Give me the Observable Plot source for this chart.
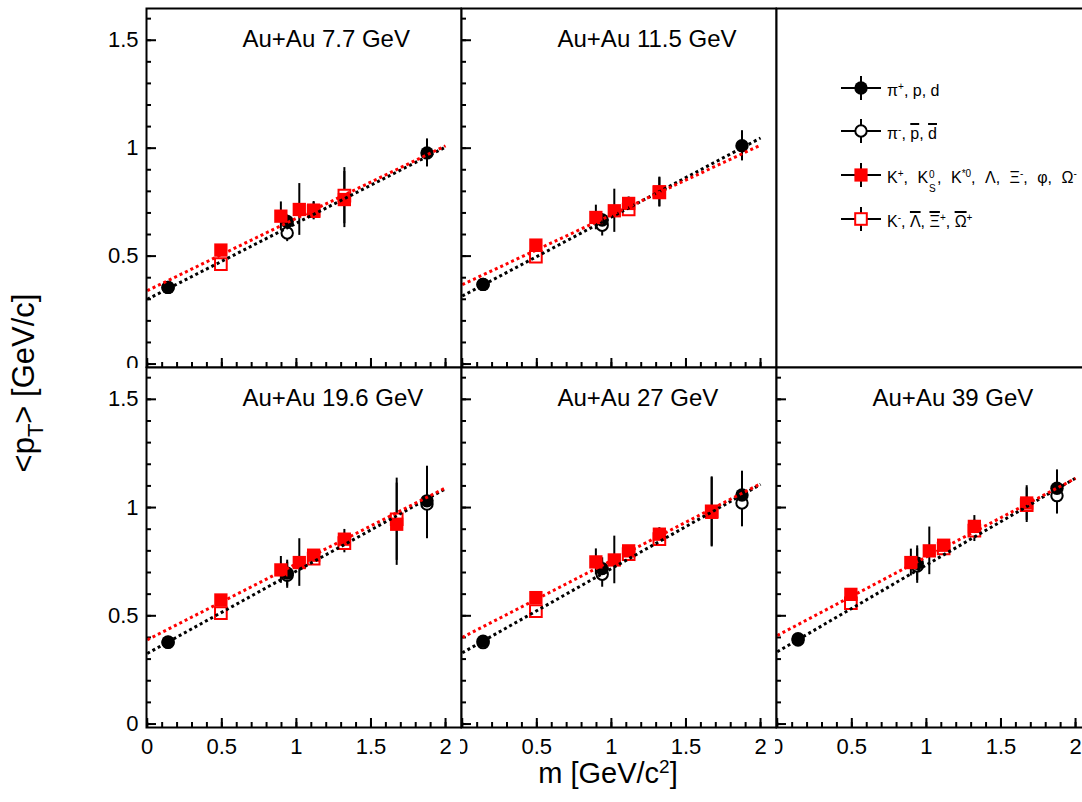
<!DOCTYPE html>
<html>
<head>
<meta charset="utf-8">
<script src="https://cdn.jsdelivr.net/npm/d3@7"></script>
<script src="https://cdn.jsdelivr.net/npm/@observablehq/plot@0.6"></script>
<style>
html, body { margin: 0; padding: 0; background: #fff; }
#root { position: relative; width: 1082px; height: 802px; overflow: hidden;
  font-family: "Liberation Sans", Arial, Helvetica, sans-serif; color: #000; }
#root svg.panel { position: absolute; overflow: hidden; }
.leg-text { position: absolute; left: 887px; font-size: 16px; line-height: 20px; height: 20px; white-space: nowrap; }
.leg-text sup, .leg-text sub { font-size: 10px; }
.leg-wide { word-spacing: 5px; }
.ov { text-decoration: overline; text-decoration-thickness: 2px; }
#ytitle { position: absolute; left: 30px; top: 383px; font-size: 31px; line-height: 34px; white-space: nowrap;
  transform: translate(-50%, -50%) rotate(-90deg); }
#ytitle sub { font-size: 22px; vertical-align: -0.4em; }
#xtitle { position: absolute; left: 608px; top: 757px; font-size: 29px; line-height: 1; white-space: nowrap;
  transform: translateX(-50%); }
#xtitle sup { font-size: 19px; vertical-align: 0.55em; }
</style>
</head>
<body>
<div id="root"></div>
<script>
// ---------------- data ----------------
const energies = ["7.7", "11.5", "19.6", "27", "39"];
const particles = ["π+", "π-", "K+", "K-", "K*0", "p", "p̄", "φ", "Λ", "Λ̄", "Ξ-", "Ξ̄+", "Ω-", "Ω̄+", "d", "d̄"];
const masses = [0.1396, 0.1396, 0.4937, 0.4937, 0.8959, 0.9383, 0.9383, 1.0195, 1.1157, 1.1157, 1.3217, 1.3217, 1.6725, 1.6725, 1.8756, 1.8756];
const markerKinds = ["filledCircle", "openCircle", "filledSquare", "openSquare", "filledSquare", "filledCircle", "openCircle",
  "filledSquare", "filledSquare", "openSquare", "filledSquare", "openSquare", "filledSquare", "openSquare", "filledCircle", "openCircle"];

// <pT> values (GeV/c), same order as particles; null = not measured
const meanPt77  = [0.355, 0.355, 0.528, 0.463, 0.685, 0.660, 0.607, 0.716, 0.713, 0.708, 0.762, 0.780, null, null, 0.978, null];
const meanPt115 = [0.369, 0.369, 0.551, 0.497, 0.679, 0.667, 0.643, 0.710, 0.744, 0.716, 0.798, 0.795, null, null, 1.011, null];
const meanPt196 = [0.379, 0.377, 0.573, 0.512, 0.712, 0.697, 0.687, 0.746, 0.780, 0.764, 0.854, 0.836, 0.923, 0.946, 1.031, 1.016];
const meanPt27  = [0.383, 0.376, 0.584, 0.522, 0.749, 0.718, 0.692, 0.758, 0.800, 0.785, 0.877, 0.854, 0.978, 0.982, 1.058, 1.021];
const meanPt39  = [0.394, 0.388, 0.599, 0.558, 0.746, 0.743, 0.730, 0.800, 0.826, 0.811, 0.913, 0.893, 1.021, 1.011, 1.089, 1.055];

// uncertainties
const err77  = [0.01, 0.01, 0.01, 0.01, 0.066, 0.03, 0.04, 0.12, 0.04, 0.04, 0.13, 0.13, null, null, 0.065, null];
const err115 = [0.01, 0.01, 0.01, 0.01, 0.057, 0.03, 0.05, 0.10, 0.03, 0.03, 0.068, 0.068, null, null, 0.07, null];
const err196 = [0.01, 0.01, 0.01, 0.01, 0.062, 0.06, 0.06, 0.11, 0.02, 0.02, 0.045, 0.045, 0.19, 0.19, 0.16, 0.16];
const err27  = [0.01, 0.01, 0.01, 0.01, 0.06, 0.05, 0.06, 0.11, 0.02, 0.02, 0.03, 0.03, 0.16, 0.16, 0.11, 0.11];
const err39  = [0.01, 0.01, 0.01, 0.01, 0.062, 0.08, 0.08, 0.11, 0.02, 0.02, 0.05, 0.05, 0.08, 0.08, 0.085, 0.085];

// linear fits: value at m = fitX[0] and m = fitX[1]
const fitX = [0, 2];
const fitBlackStart = [0.300, 0.315, 0.326, 0.329, 0.334];
const fitBlackEnd   = [1.005, 1.047, 1.087, 1.107, 1.136];
const fitRedStart   = [0.340, 0.368, 0.389, 0.400, 0.409];
const fitRedEnd     = [1.011, 1.014, 1.091, 1.110, 1.135];

// axes
const xMajorTicks = [0, 0.5, 1, 1.5, 2];
const yMajorTicks = [0, 0.5, 1, 1.5];
const xMinorTicks = d3.range(0, 2.05, 0.1);
const yMinorTicks = d3.range(0, 1.65, 0.1);

const meanPt = [meanPt77, meanPt115, meanPt196, meanPt27, meanPt39];
const errors = [err77, err115, err196, err27, err39];

// ---------------- layout ----------------
const xDomain = [-0.005, 2.107];
const yDomain = [-0.016, 1.647];
const colLeft = [146, 461, 776];
const rowTop = [8, 367];
const panelW = 315;
const panelH = [359, 360];
const font = '"Liberation Sans", Arial, Helvetica, sans-serif';
const root = document.getElementById("root");

function place(svg, left, top) {
  svg.classList.add("panel");
  svg.style.left = left + "px";
  svg.style.top = top + "px";
  root.appendChild(svg);
}

function dataPanel(k, row, col) {
  const mL = col === 0 ? 146 : 1, mR = 1, mT = 1, mB = row === 1 ? 50 : 1;
  const pts = particles.map((name, j) => ({name, m: masses[j], v: meanPt[k][j], e: errors[k][j], kind: markerKinds[j]}))
    .filter(d => d.v != null);
  const black = fitX.map((x, i) => ({x, y: i === 0 ? fitBlackStart[k] : fitBlackEnd[k]}));
  const red = fitX.map((x, i) => ({x, y: i === 0 ? fitRedStart[k] : fitRedEnd[k]}));
  const of = kind => pts.filter(d => d.kind === kind);
  const dotted = {strokeWidth: 3, strokeDasharray: "3,3", strokeLinecap: "butt", strokeLinejoin: "miter"};
  const marks = [
    Plot.axisY(yMinorTicks, {tickSize: -5, fill: "none", strokeWidth: 2, label: null}),
    Plot.axisY(yMajorTicks, {tickSize: -10, fill: "none", strokeWidth: 2, label: null}),
    Plot.axisX(xMinorTicks, {tickSize: -5, fill: "none", strokeWidth: 2, label: null}),
    Plot.axisX(xMajorTicks, {tickSize: -9, fill: "none", strokeWidth: 2, label: null}),
    Plot.ruleX(pts, {x: "m", y1: d => d.v - d.e, y2: d => d.v + d.e, stroke: "black", strokeWidth: 2}),
    Plot.dot(of("openCircle"), {x: "m", y: "v", r: 5.7, symbol: "circle", fill: "white", stroke: "black", strokeWidth: 2}),
    Plot.dot(of("openSquare"), {x: "m", y: "v", r: 6.6, symbol: "square", fill: "white", stroke: "red", strokeWidth: 2}),
    Plot.dot(of("filledCircle"), {x: "m", y: "v", r: 6.7, symbol: "circle", fill: "black", stroke: "none"}),
    Plot.dot(of("filledSquare"), {x: "m", y: "v", r: 7.5, symbol: "square", fill: "red", stroke: "none"}),
    Plot.line(black, {x: "x", y: "y", stroke: "black", ...dotted}),
    Plot.line(red, {x: "x", y: "y", stroke: "red", ...dotted}),
    Plot.text([`Au+Au ${energies[k]} GeV`], {frameAnchor: "top-left", dx: 96, dy: 21, fontSize: 24,
      textAnchor: "start", lineAnchor: "top", fill: "black"}),
    Plot.frame({stroke: "black", strokeWidth: 2})
  ];
  if (col === 0) marks.push(Plot.axisY(yMajorTicks, {tickSize: 0, tickPadding: 8, stroke: "none", fontSize: 22,
    tickFormat: d => String(d), label: null}));
  if (row === 1) marks.push(Plot.axisX(xMajorTicks, {tickSize: 0, tickPadding: 11, stroke: "none", fontSize: 22,
    tickFormat: d => String(d), label: null}));
  const svg = Plot.plot({
    width: mL + panelW + mR, height: mT + panelH[row] + mB,
    marginLeft: mL, marginRight: mR, marginTop: mT, marginBottom: mB,
    x: {domain: xDomain}, y: {domain: yDomain},
    style: {fontFamily: font, fontSize: "22px", background: "transparent", color: "black", overflow: "hidden"},
    marks
  });
  place(svg, colLeft[col] - mL, rowTop[row] - mT);
}

function legendPanel(row, col) {
  const svg = Plot.plot({
    width: panelW + 2, height: panelH[row] + 2,
    marginLeft: 1, marginRight: 1, marginTop: 1, marginBottom: 1,
    style: {background: "transparent", overflow: "hidden"},
    marks: [Plot.frame({stroke: "black", strokeWidth: 2})]
  });
  place(svg, colLeft[col] - 1, rowTop[row] - 1);
}

dataPanel(0, 0, 0);
dataPanel(1, 0, 1);
legendPanel(0, 2);
dataPanel(2, 1, 0);
dataPanel(3, 1, 1);
dataPanel(4, 1, 2);

// ---------------- legend ----------------
const legendLabels = [
  'π<sup>+</sup>, p, d',
  'π<sup>-</sup>, <span class="ov">p</span>, <span class="ov">d</span>',
  '<span class="leg-wide">K<sup>+</sup>, K<span style="display:inline-block;position:relative;width:9px;height:10px;"><span style="position:absolute;left:1px;top:-8px;font-size:10px;">0</span><span style="position:absolute;left:1px;top:6px;font-size:10px;">S</span></span>, K<sup>*0</sup>, Λ, Ξ<sup>-</sup>, φ, Ω<sup>-</sup></span>',
  'K<sup>-</sup>, <span class="ov">Λ</span>, <span class="ov">Ξ</span><sup>+</sup>, <span class="ov">Ω</span><sup>+</sup>'
];
const legendKinds = ["filledCircle", "openCircle", "filledSquare", "openSquare"];
const legendY = [88, 131, 175, 219];

function symbolSVG(kind) {
  let m = "";
  if (kind === "filledCircle") m = '<circle cx="20" cy="13" r="6.7" fill="black"/>';
  if (kind === "openCircle") m = '<circle cx="20" cy="13" r="5.7" fill="white" stroke="black" stroke-width="2"/>';
  if (kind === "filledSquare") m = '<rect x="13.4" y="6.4" width="13.2" height="13.2" fill="red"/>';
  if (kind === "openSquare") m = '<rect x="14.2" y="7.2" width="11.6" height="11.6" fill="white" stroke="red" stroke-width="2"/>';
  return '<line x1="0" x2="40" y1="13" y2="13" stroke="black" stroke-width="2"/>' +
         '<line x1="20" x2="20" y1="1" y2="25" stroke="black" stroke-width="2"/>' + m;
}

legendKinds.forEach((kind, i) => {
  const s = document.createElementNS("http://www.w3.org/2000/svg", "svg");
  s.setAttribute("width", 40); s.setAttribute("height", 26);
  s.style.position = "absolute"; s.style.left = "841px"; s.style.top = (legendY[i] - 13) + "px";
  s.innerHTML = symbolSVG(kind);
  root.appendChild(s);
  const t = document.createElement("div");
  t.className = "leg-text";
  t.style.top = (legendY[i] - 11) + "px";
  t.innerHTML = legendLabels[i];
  root.appendChild(t);
});

// ---------------- axis titles ----------------
const yt = document.createElement("div");
yt.id = "ytitle";
yt.innerHTML = "&lt;p<sub>T</sub>&gt; [GeV/c]";
root.appendChild(yt);
const xt = document.createElement("div");
xt.id = "xtitle";
xt.innerHTML = "m [GeV/c<sup>2</sup>]";
root.appendChild(xt);
</script>
</body>
</html>
